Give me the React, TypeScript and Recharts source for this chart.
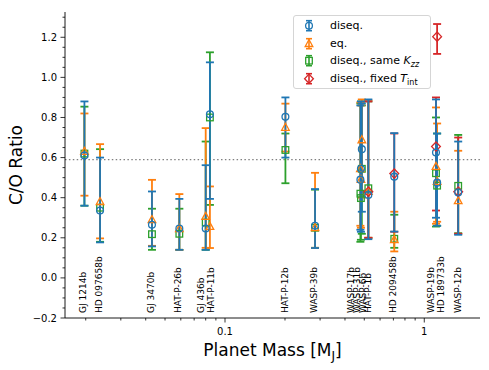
import React from 'react';
import {
  ScatterChart,
  Scatter,
  XAxis,
  YAxis,
  ErrorBar,
  ReferenceLine,
  Legend,
} from 'recharts';

const FONT = '"DejaVu Sans", sans-serif';

// planets, in the order used by every series below
const planets = [
  'GJ 1214b', 'HD 97658b', 'GJ 3470b', 'HAT-P-26b', 'GJ 436b', 'HAT-P-11b',
  'HAT-P-12b', 'WASP-39b', 'WASP-17b', 'WASP-31b', 'WASP-6b', 'HAT-P-1b',
  'HD 209458b', 'WASP-19b', 'HD 189733b', 'WASP-12b',
];
const planetMass = [
  0.0197, 0.0236, 0.043, 0.059, 0.080, 0.084,
  0.201, 0.283, 0.486, 0.478, 0.481, 0.524,
  0.707, 1.145, 1.16, 1.48,
];

// diseq.
const diseqCO = [0.61, 0.336, 0.265, 0.246, 0.246, 0.816, 0.803, 0.26, 0.642, 0.49, 0.544, 0.414, 0.505, 0.625, 0.475, 0.426];
const diseqLo = [0.36, 0.177, 0.157, 0.14, 0.14, 0.394, 0.60, 0.149, 0.33, 0.24, 0.23, 0.193, 0.231, 0.30, 0.26, 0.215];
const diseqHi = [0.88, 0.60, 0.431, 0.394, 0.562, 1.075, 0.90, 0.443, 0.87, 0.86, 0.88, 0.89, 0.722, 0.89, 0.72, 0.68];

// eq.
const eqCO = [0.63, 0.38, 0.29, 0.245, 0.306, 0.256, 0.75, 0.25, 0.688, 0.544, 0.49, 0.43, 0.19, 0.555, 0.48, 0.384];
const eqLo = [0.41, 0.197, 0.16, 0.14, 0.15, 0.149, 0.63, 0.15, 0.40, 0.26, 0.25, 0.2, 0.132, 0.27, 0.28, 0.22];
const eqHi = [0.82, 0.667, 0.489, 0.418, 0.747, 0.456, 0.869, 0.524, 0.89, 0.875, 0.86, 0.885, 0.33, 0.85, 0.77, 0.634];

// diseq., same Kzz
const sameKzzCO = [0.62, 0.35, 0.218, 0.22, 0.276, 0.80, 0.638, 0.25, 0.544, 0.42, 0.398, 0.447, 0.195, 0.522, 0.46, 0.459];
const sameKzzLo = [0.36, 0.18, 0.14, 0.14, 0.14, 0.364, 0.472, 0.15, 0.22, 0.18, 0.19, 0.2, 0.15, 0.256, 0.26, 0.223];
const sameKzzHi = [0.854, 0.642, 0.345, 0.345, 0.68, 1.125, 0.72, 0.44, 0.86, 0.87, 0.88, 0.88, 0.315, 0.80, 0.72, 0.713];

// diseq., fixed Tint (only a few planets)
const fixedTintPlanets = ['HAT-P-1b', 'HD 209458b', 'WASP-19b', 'HD 189733b', 'WASP-12b'];
const fixedTintCO = [0.43, 0.52, 0.655, 1.203, 0.43];
const fixedTintLo = [0.2, 0.23, 0.336, 1.117, 0.22];
const fixedTintHi = [0.88, 0.72, 0.90, 1.266, 0.70];

// planet name labels along the bottom
const labelNames = [
  'GJ 1214b', 'HD 097658b', 'GJ 3470b', 'HAT-P-26b', 'GJ 436b', 'HAT-P-11b',
  'HAT-P-12b', 'WASP-39b', 'WASP-17b', 'WASP-31b', 'WASP-6b', 'HAT-P-1b',
  'HD 209458b', 'WASP-19b', 'HD 189733b', 'WASP-12b',
];
const labelMass = [
  0.0193, 0.0234, 0.0425, 0.058, 0.0758, 0.0848,
  0.200, 0.2797, 0.4287, 0.4579, 0.494, 0.5236,
  0.699, 1.077, 1.209, 1.471,
];

const solarCO = 0.59;

const xMajorTicks = [0.1, 1];
const xMinorTicks = [0.02, 0.03, 0.04, 0.05, 0.06, 0.07, 0.08, 0.09, 0.2, 0.3, 0.4, 0.5, 0.6, 0.7, 0.8, 0.9];
const yMajorTicks = [-0.2, 0, 0.2, 0.4, 0.6, 0.8, 1.0, 1.2];
const yMinorTicks = [-0.15, -0.1, -0.05, 0.05, 0.1, 0.15, 0.25, 0.3, 0.35, 0.45, 0.5, 0.55, 0.65, 0.7, 0.75, 0.85, 0.9, 0.95, 1.05, 1.1, 1.15, 1.25, 1.3];

const X_DOMAIN: [number, number] = [0.01574, 1.904];
const Y_DOMAIN: [number, number] = [-0.2, 1.326];
const LABEL_Y = -0.175;

const BLUE = '#1f77b4';
const ORANGE = '#ff7f0e';
const GREEN = '#2ca02c';
const RED = '#d62728';

const rows = (names: string[], co: number[], lo: number[], hi: number[]) =>
  names.map((name, i) => ({
    name,
    x: planetMass[planets.indexOf(name)],
    y: co[i],
    err: [co[i] - lo[i], hi[i] - co[i]],
  }));

const diseqData = rows(planets, diseqCO, diseqLo, diseqHi);
const eqData = rows(planets, eqCO, eqLo, eqHi);
const sameKzzData = rows(planets, sameKzzCO, sameKzzLo, sameKzzHi);
const fixedTintData = rows(fixedTintPlanets, fixedTintCO, fixedTintLo, fixedTintHi);
const labelData = labelNames.map((name, i) => ({ name, x: labelMass[i], y: LABEL_Y }));

const allXTicks = [...xMinorTicks, ...xMajorTicks].sort((a, b) => a - b);
const allYTicks = [...yMinorTicks, ...yMajorTicks].sort((a, b) => a - b);
const isMajor = (list: number[], v: number) => list.some((m) => Math.abs(m - v) < 1e-9);

const marker = (kind: string, cx: number, cy: number, color: string) => {
  const sw = 1.3;
  if (kind === 'circle') return <circle cx={cx} cy={cy} r={3.4} fill="none" stroke={color} strokeWidth={sw} />;
  if (kind === 'triangle')
    return <polygon points={`${cx},${cy - 4.2} ${cx - 3.8},${cy + 2.8} ${cx + 3.8},${cy + 2.8}`} fill="none" stroke={color} strokeWidth={sw} />;
  if (kind === 'square') return <rect x={cx - 3.3} y={cy - 3.3} width={6.6} height={6.6} fill="none" stroke={color} strokeWidth={sw} />;
  return <polygon points={`${cx},${cy - 4.6} ${cx + 4.4},${cy} ${cx},${cy + 4.6} ${cx - 4.4},${cy}`} fill="none" stroke={color} strokeWidth={sw} />;
};

const BottomTick = ({ x, y, payload }: any) => {
  const major = isMajor(xMajorTicks, payload.value);
  return (
    <g>
      <line x1={x} y1={y} x2={x} y2={y + (major ? 4.5 : 2.5)} stroke="#000" strokeWidth={0.8} />
      {major && (
        <text x={x} y={y + 17} textAnchor="middle" fontSize={10} fontFamily={FONT} fill="#000">
          {String(payload.value)}
        </text>
      )}
    </g>
  );
};

const TopTick = ({ x, y, payload }: any) => {
  const major = isMajor(xMajorTicks, payload.value);
  return <line x1={x} y1={y} x2={x} y2={y + (major ? 4.5 : 2.5)} stroke="#000" strokeWidth={0.8} />;
};

const LeftTick = ({ x, y, payload }: any) => {
  const major = isMajor(yMajorTicks, payload.value);
  return (
    <g>
      <line x1={x} y1={y} x2={x - (major ? 4.5 : 2.5)} y2={y} stroke="#000" strokeWidth={0.8} />
      {major && (
        <text x={x - 8} y={y} textAnchor="end" dominantBaseline="central" fontSize={10} fontFamily={FONT} fill="#000">
          {payload.value.toFixed(1).replace('-', '\u2212')}
        </text>
      )}
    </g>
  );
};

const RightTick = ({ x, y, payload }: any) => {
  const major = isMajor(yMajorTicks, payload.value);
  return <line x1={x} y1={y} x2={x - (major ? 4.5 : 2.5)} y2={y} stroke="#000" strokeWidth={0.8} />;
};

const XTitle = (props: any) => {
  const vb = props.viewBox;
  return (
    <text x={vb.x + vb.width / 2} y={vb.y + 38} textAnchor="middle" fontSize={17} fontFamily={FONT} fill="#000">
      Planet Mass [M<tspan fontSize={12} dy={4}>J</tspan>
      <tspan dy={-4}>]</tspan>
    </text>
  );
};

const YTitle = (props: any) => {
  const vb = props.viewBox;
  const cx = vb.x + 15.5;
  const cy = vb.y + vb.height / 2;
  return (
    <text x={cx} y={cy} transform={`rotate(-90, ${cx}, ${cy})`} textAnchor="middle" dominantBaseline="central" fontSize={17} fontFamily={FONT} fill="#000">
      C/O Ratio
    </text>
  );
};

const PlanetLabel = ({ cx, cy, payload }: any) => (
  <text x={cx} y={cy} transform={`rotate(-90, ${cx}, ${cy})`} textAnchor="start" dominantBaseline="central" fontSize={9} fontFamily={FONT} fill="#000">
    {payload.name}
  </text>
);

const sub = { fontSize: 8, position: 'relative' as const, top: 3 };

const legendItems = [
  { kind: 'circle', color: BLUE, label: <>diseq.</> },
  { kind: 'triangle', color: ORANGE, label: <>eq.</> },
  { kind: 'square', color: GREEN, label: <>diseq., same <i>K</i><span style={sub}><i>zz</i></span></> },
  { kind: 'diamond', color: RED, label: <>diseq., fixed <i>T</i><span style={sub}>int</span></> },
];

const LegendBox = () => (
  <div
    style={{
      width: 138,
      height: 74,
      boxSizing: 'border-box',
      border: '1px solid #d5d5d5',
      borderRadius: 3,
      background: 'rgba(255,255,255,0.8)',
      fontFamily: FONT,
      fontSize: 11,
      color: '#000',
      paddingTop: 1,
    }}
  >
    {legendItems.map((item, i) => (
      <div key={i} style={{ height: 17.5, display: 'flex', alignItems: 'center', whiteSpace: 'nowrap' }}>
        <svg width={36} height={17.5} style={{ flex: 'none' }}>
          <line x1={15} y1={3.7} x2={15} y2={13.7} stroke={item.color} strokeWidth={1.6} />
          <line x1={12} y1={3.7} x2={18} y2={3.7} stroke={item.color} strokeWidth={1.6} />
          <line x1={12} y1={13.7} x2={18} y2={13.7} stroke={item.color} strokeWidth={1.6} />
          {marker(item.kind, 15, 8.7, item.color)}
        </svg>
        <span>{item.label}</span>
      </div>
    ))}
  </div>
);

const series = [
  { data: sameKzzData, kind: 'square', color: GREEN },
  { data: eqData, kind: 'triangle', color: ORANGE },
  { data: fixedTintData, kind: 'diamond', color: RED },
  { data: diseqData, kind: 'circle', color: BLUE },
];

export default function App() {
  return (
    <div style={{ position: 'absolute', left: 0, top: 0, background: '#fff' }}>
      <ScatterChart width={489} height={370} margin={{ top: 12, right: 9, bottom: 0, left: 0 }} style={{ fontFamily: FONT }}>
        <XAxis
          dataKey="x"
          type="number"
          scale="log"
          domain={X_DOMAIN}
          allowDataOverflow
          ticks={allXTicks}
          interval={0}
          tickSize={0}
          tickMargin={0}
          tick={<BottomTick />}
          height={52}
          axisLine={{ stroke: '#000', strokeWidth: 0.9 }}
          label={<XTitle />}
        />
        <XAxis
          xAxisId="top"
          orientation="top"
          dataKey="x"
          type="number"
          scale="log"
          domain={X_DOMAIN}
          allowDataOverflow
          ticks={allXTicks}
          interval={0}
          tickSize={0}
          tickMargin={0}
          tick={<TopTick />}
          height={0}
          axisLine={{ stroke: '#000', strokeWidth: 0.9 }}
        />
        <YAxis
          dataKey="y"
          type="number"
          domain={Y_DOMAIN}
          allowDataOverflow
          ticks={allYTicks}
          interval={0}
          tickSize={0}
          tickMargin={0}
          tick={<LeftTick />}
          width={65}
          axisLine={{ stroke: '#000', strokeWidth: 0.9 }}
          label={<YTitle />}
        />
        <YAxis
          yAxisId="right"
          orientation="right"
          dataKey="y"
          type="number"
          domain={Y_DOMAIN}
          allowDataOverflow
          ticks={allYTicks}
          interval={0}
          tickSize={0}
          tickMargin={0}
          tick={<RightTick />}
          width={0}
          axisLine={{ stroke: '#000', strokeWidth: 0.9 }}
        />
        <ReferenceLine y={solarCO} stroke="#808080" strokeWidth={1.4} strokeDasharray="1.5 2.4" />
        <Scatter
          data={labelData}
          isAnimationActive={false}
          shape={(p: any) => <PlanetLabel {...p} />}
        />
        {series.map((s, i) => (
          <Scatter
            key={i}
            data={s.data}
            isAnimationActive={false}
            shape={(p: any) => marker(s.kind, p.cx, p.cy, s.color)}
          >
            <ErrorBar dataKey="err" direction="y" width={4} stroke={s.color} strokeWidth={1.8} isAnimationActive={false} />
          </Scatter>
        ))}
        <Legend
          layout="vertical"
          align="center"
          verticalAlign="middle"
          content={<LegendBox />}
          wrapperStyle={{ left: 293, top: 15, width: 138, height: 74 }}
        />
      </ScatterChart>
    </div>
  );
}
